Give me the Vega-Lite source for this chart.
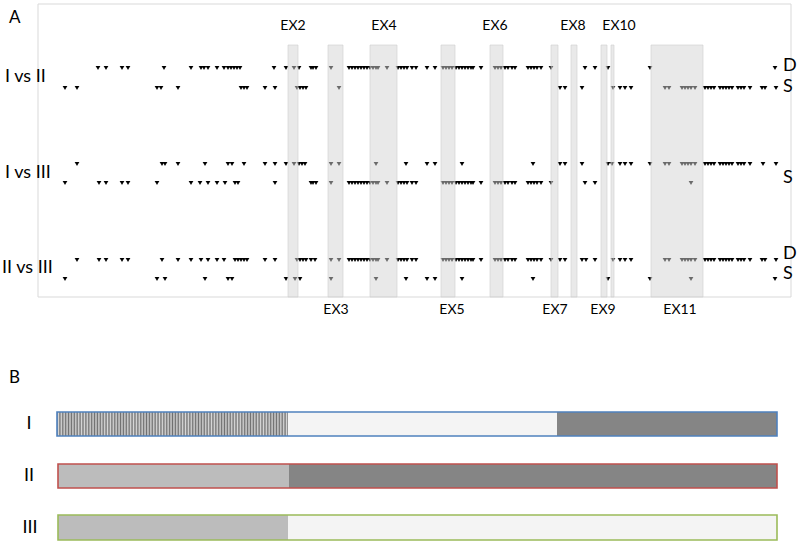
{
  "$schema": "https://vega.github.io/schema/vega-lite/v6.json",
  "width": 799,
  "height": 546,
  "padding": 0,
  "autosize": {"type": "fit", "contains": "padding"},
  "config": {"view": {"stroke": null}, "font": "Lato"},
  "datasets": {
    "lanes": [
      {"lane": "I vs II D", "y": 68}, {"lane": "I vs II S", "y": 88},
      {"lane": "I vs III D", "y": 164}, {"lane": "I vs III S", "y": 183},
      {"lane": "II vs III D", "y": 260}, {"lane": "II vs III S", "y": 279}
    ],
    "sites": [
      {"lane":"I vs II D","pos":98},{"lane":"I vs II D","pos":106},{"lane":"I vs II D","pos":122},{"lane":"I vs II D","pos":128},{"lane":"I vs II D","pos":164},{"lane":"I vs II D","pos":191},{"lane":"I vs II D","pos":201},{"lane":"I vs II D","pos":204},{"lane":"I vs II D","pos":208},{"lane":"I vs II D","pos":217},{"lane":"I vs II D","pos":224},{"lane":"I vs II D","pos":228},{"lane":"I vs II D","pos":231},{"lane":"I vs II D","pos":234},{"lane":"I vs II D","pos":237},{"lane":"I vs II D","pos":240},{"lane":"I vs II D","pos":274},{"lane":"I vs II D","pos":286},{"lane":"I vs II D","pos":294},{"lane":"I vs II D","pos":299},{"lane":"I vs II D","pos":311},{"lane":"I vs II D","pos":313},{"lane":"I vs II D","pos":316},{"lane":"I vs II D","pos":331},{"lane":"I vs II D","pos":349},{"lane":"I vs II D","pos":352},{"lane":"I vs II D","pos":355},{"lane":"I vs II D","pos":358},{"lane":"I vs II D","pos":361},{"lane":"I vs II D","pos":364},{"lane":"I vs II D","pos":367},{"lane":"I vs II D","pos":370},{"lane":"I vs II D","pos":373},{"lane":"I vs II D","pos":376},{"lane":"I vs II D","pos":378},{"lane":"I vs II D","pos":387},{"lane":"I vs II D","pos":398},{"lane":"I vs II D","pos":401},{"lane":"I vs II D","pos":404},{"lane":"I vs II D","pos":407},{"lane":"I vs II D","pos":412},{"lane":"I vs II D","pos":416},{"lane":"I vs II D","pos":427},{"lane":"I vs II D","pos":435},{"lane":"I vs II D","pos":443},{"lane":"I vs II D","pos":446},{"lane":"I vs II D","pos":449},{"lane":"I vs II D","pos":452},{"lane":"I vs II D","pos":456},{"lane":"I vs II D","pos":459},{"lane":"I vs II D","pos":462},{"lane":"I vs II D","pos":465},{"lane":"I vs II D","pos":468},{"lane":"I vs II D","pos":471},{"lane":"I vs II D","pos":473},{"lane":"I vs II D","pos":481},{"lane":"I vs II D","pos":495},{"lane":"I vs II D","pos":498},{"lane":"I vs II D","pos":501},{"lane":"I vs II D","pos":505},{"lane":"I vs II D","pos":508},{"lane":"I vs II D","pos":512},{"lane":"I vs II D","pos":515},{"lane":"I vs II D","pos":528},{"lane":"I vs II D","pos":531},{"lane":"I vs II D","pos":534},{"lane":"I vs II D","pos":537},{"lane":"I vs II D","pos":541},{"lane":"I vs II D","pos":551},{"lane":"I vs II D","pos":585},{"lane":"I vs II D","pos":595},{"lane":"I vs II D","pos":608},{"lane":"I vs II D","pos":650},{"lane":"I vs II D","pos":775},
      {"lane":"I vs II S","pos":65},{"lane":"I vs II S","pos":77},{"lane":"I vs II S","pos":157},{"lane":"I vs II S","pos":161},{"lane":"I vs II S","pos":178},{"lane":"I vs II S","pos":241},{"lane":"I vs II S","pos":244},{"lane":"I vs II S","pos":247},{"lane":"I vs II S","pos":265},{"lane":"I vs II S","pos":275},{"lane":"I vs II S","pos":297},{"lane":"I vs II S","pos":300},{"lane":"I vs II S","pos":303},{"lane":"I vs II S","pos":306},{"lane":"I vs II S","pos":339},{"lane":"I vs II S","pos":560},{"lane":"I vs II S","pos":565},{"lane":"I vs II S","pos":582},{"lane":"I vs II S","pos":613},{"lane":"I vs II S","pos":620},{"lane":"I vs II S","pos":625},{"lane":"I vs II S","pos":631},{"lane":"I vs II S","pos":665},{"lane":"I vs II S","pos":669},{"lane":"I vs II S","pos":682},{"lane":"I vs II S","pos":685},{"lane":"I vs II S","pos":688},{"lane":"I vs II S","pos":691},{"lane":"I vs II S","pos":695},{"lane":"I vs II S","pos":705},{"lane":"I vs II S","pos":708},{"lane":"I vs II S","pos":711},{"lane":"I vs II S","pos":714},{"lane":"I vs II S","pos":720},{"lane":"I vs II S","pos":723},{"lane":"I vs II S","pos":726},{"lane":"I vs II S","pos":729},{"lane":"I vs II S","pos":732},{"lane":"I vs II S","pos":738},{"lane":"I vs II S","pos":741},{"lane":"I vs II S","pos":744},{"lane":"I vs II S","pos":750},{"lane":"I vs II S","pos":762},{"lane":"I vs II S","pos":765},{"lane":"I vs II S","pos":776},
      {"lane":"I vs III D","pos":77},{"lane":"I vs III D","pos":162},{"lane":"I vs III D","pos":165},{"lane":"I vs III D","pos":178},{"lane":"I vs III D","pos":205},{"lane":"I vs III D","pos":228},{"lane":"I vs III D","pos":232},{"lane":"I vs III D","pos":244},{"lane":"I vs III D","pos":265},{"lane":"I vs III D","pos":275},{"lane":"I vs III D","pos":286},{"lane":"I vs III D","pos":294},{"lane":"I vs III D","pos":299},{"lane":"I vs III D","pos":302},{"lane":"I vs III D","pos":305},{"lane":"I vs III D","pos":331},{"lane":"I vs III D","pos":339},{"lane":"I vs III D","pos":376},{"lane":"I vs III D","pos":406},{"lane":"I vs III D","pos":427},{"lane":"I vs III D","pos":435},{"lane":"I vs III D","pos":462},{"lane":"I vs III D","pos":533},{"lane":"I vs III D","pos":560},{"lane":"I vs III D","pos":565},{"lane":"I vs III D","pos":582},{"lane":"I vs III D","pos":608},{"lane":"I vs III D","pos":612},{"lane":"I vs III D","pos":620},{"lane":"I vs III D","pos":625},{"lane":"I vs III D","pos":631},{"lane":"I vs III D","pos":650},{"lane":"I vs III D","pos":665},{"lane":"I vs III D","pos":669},{"lane":"I vs III D","pos":682},{"lane":"I vs III D","pos":685},{"lane":"I vs III D","pos":688},{"lane":"I vs III D","pos":691},{"lane":"I vs III D","pos":695},{"lane":"I vs III D","pos":705},{"lane":"I vs III D","pos":708},{"lane":"I vs III D","pos":711},{"lane":"I vs III D","pos":714},{"lane":"I vs III D","pos":720},{"lane":"I vs III D","pos":723},{"lane":"I vs III D","pos":726},{"lane":"I vs III D","pos":729},{"lane":"I vs III D","pos":732},{"lane":"I vs III D","pos":738},{"lane":"I vs III D","pos":741},{"lane":"I vs III D","pos":744},{"lane":"I vs III D","pos":750},{"lane":"I vs III D","pos":763},{"lane":"I vs III D","pos":776},
      {"lane":"I vs III S","pos":65},{"lane":"I vs III S","pos":99},{"lane":"I vs III S","pos":106},{"lane":"I vs III S","pos":122},{"lane":"I vs III S","pos":128},{"lane":"I vs III S","pos":157},{"lane":"I vs III S","pos":191},{"lane":"I vs III S","pos":200},{"lane":"I vs III S","pos":208},{"lane":"I vs III S","pos":217},{"lane":"I vs III S","pos":225},{"lane":"I vs III S","pos":235},{"lane":"I vs III S","pos":238},{"lane":"I vs III S","pos":275},{"lane":"I vs III S","pos":311},{"lane":"I vs III S","pos":313},{"lane":"I vs III S","pos":316},{"lane":"I vs III S","pos":331},{"lane":"I vs III S","pos":349},{"lane":"I vs III S","pos":352},{"lane":"I vs III S","pos":355},{"lane":"I vs III S","pos":358},{"lane":"I vs III S","pos":361},{"lane":"I vs III S","pos":364},{"lane":"I vs III S","pos":367},{"lane":"I vs III S","pos":370},{"lane":"I vs III S","pos":373},{"lane":"I vs III S","pos":376},{"lane":"I vs III S","pos":378},{"lane":"I vs III S","pos":387},{"lane":"I vs III S","pos":398},{"lane":"I vs III S","pos":401},{"lane":"I vs III S","pos":404},{"lane":"I vs III S","pos":407},{"lane":"I vs III S","pos":412},{"lane":"I vs III S","pos":416},{"lane":"I vs III S","pos":443},{"lane":"I vs III S","pos":446},{"lane":"I vs III S","pos":449},{"lane":"I vs III S","pos":452},{"lane":"I vs III S","pos":456},{"lane":"I vs III S","pos":459},{"lane":"I vs III S","pos":462},{"lane":"I vs III S","pos":465},{"lane":"I vs III S","pos":468},{"lane":"I vs III S","pos":471},{"lane":"I vs III S","pos":473},{"lane":"I vs III S","pos":481},{"lane":"I vs III S","pos":495},{"lane":"I vs III S","pos":498},{"lane":"I vs III S","pos":501},{"lane":"I vs III S","pos":505},{"lane":"I vs III S","pos":508},{"lane":"I vs III S","pos":512},{"lane":"I vs III S","pos":515},{"lane":"I vs III S","pos":528},{"lane":"I vs III S","pos":531},{"lane":"I vs III S","pos":534},{"lane":"I vs III S","pos":537},{"lane":"I vs III S","pos":541},{"lane":"I vs III S","pos":551},{"lane":"I vs III S","pos":585},{"lane":"I vs III S","pos":595},{"lane":"I vs III S","pos":691},
      {"lane":"II vs III D","pos":77},{"lane":"II vs III D","pos":99},{"lane":"II vs III D","pos":106},{"lane":"II vs III D","pos":122},{"lane":"II vs III D","pos":128},{"lane":"II vs III D","pos":162},{"lane":"II vs III D","pos":178},{"lane":"II vs III D","pos":191},{"lane":"II vs III D","pos":201},{"lane":"II vs III D","pos":208},{"lane":"II vs III D","pos":217},{"lane":"II vs III D","pos":224},{"lane":"II vs III D","pos":235},{"lane":"II vs III D","pos":238},{"lane":"II vs III D","pos":241},{"lane":"II vs III D","pos":244},{"lane":"II vs III D","pos":247},{"lane":"II vs III D","pos":265},{"lane":"II vs III D","pos":275},{"lane":"II vs III D","pos":297},{"lane":"II vs III D","pos":300},{"lane":"II vs III D","pos":303},{"lane":"II vs III D","pos":306},{"lane":"II vs III D","pos":311},{"lane":"II vs III D","pos":315},{"lane":"II vs III D","pos":331},{"lane":"II vs III D","pos":339},{"lane":"II vs III D","pos":349},{"lane":"II vs III D","pos":352},{"lane":"II vs III D","pos":355},{"lane":"II vs III D","pos":358},{"lane":"II vs III D","pos":361},{"lane":"II vs III D","pos":364},{"lane":"II vs III D","pos":367},{"lane":"II vs III D","pos":370},{"lane":"II vs III D","pos":373},{"lane":"II vs III D","pos":376},{"lane":"II vs III D","pos":378},{"lane":"II vs III D","pos":387},{"lane":"II vs III D","pos":398},{"lane":"II vs III D","pos":401},{"lane":"II vs III D","pos":404},{"lane":"II vs III D","pos":407},{"lane":"II vs III D","pos":412},{"lane":"II vs III D","pos":416},{"lane":"II vs III D","pos":443},{"lane":"II vs III D","pos":446},{"lane":"II vs III D","pos":449},{"lane":"II vs III D","pos":452},{"lane":"II vs III D","pos":456},{"lane":"II vs III D","pos":459},{"lane":"II vs III D","pos":462},{"lane":"II vs III D","pos":465},{"lane":"II vs III D","pos":468},{"lane":"II vs III D","pos":471},{"lane":"II vs III D","pos":473},{"lane":"II vs III D","pos":481},{"lane":"II vs III D","pos":495},{"lane":"II vs III D","pos":498},{"lane":"II vs III D","pos":501},{"lane":"II vs III D","pos":505},{"lane":"II vs III D","pos":508},{"lane":"II vs III D","pos":512},{"lane":"II vs III D","pos":515},{"lane":"II vs III D","pos":528},{"lane":"II vs III D","pos":531},{"lane":"II vs III D","pos":534},{"lane":"II vs III D","pos":537},{"lane":"II vs III D","pos":541},{"lane":"II vs III D","pos":551},{"lane":"II vs III D","pos":560},{"lane":"II vs III D","pos":565},{"lane":"II vs III D","pos":582},{"lane":"II vs III D","pos":586},{"lane":"II vs III D","pos":595},{"lane":"II vs III D","pos":613},{"lane":"II vs III D","pos":620},{"lane":"II vs III D","pos":625},{"lane":"II vs III D","pos":631},{"lane":"II vs III D","pos":665},{"lane":"II vs III D","pos":669},{"lane":"II vs III D","pos":682},{"lane":"II vs III D","pos":685},{"lane":"II vs III D","pos":688},{"lane":"II vs III D","pos":691},{"lane":"II vs III D","pos":695},{"lane":"II vs III D","pos":705},{"lane":"II vs III D","pos":708},{"lane":"II vs III D","pos":711},{"lane":"II vs III D","pos":714},{"lane":"II vs III D","pos":720},{"lane":"II vs III D","pos":723},{"lane":"II vs III D","pos":726},{"lane":"II vs III D","pos":729},{"lane":"II vs III D","pos":732},{"lane":"II vs III D","pos":738},{"lane":"II vs III D","pos":741},{"lane":"II vs III D","pos":744},{"lane":"II vs III D","pos":750},{"lane":"II vs III D","pos":762},{"lane":"II vs III D","pos":765},{"lane":"II vs III D","pos":776},
      {"lane":"II vs III S","pos":65},{"lane":"II vs III S","pos":157},{"lane":"II vs III S","pos":165},{"lane":"II vs III S","pos":205},{"lane":"II vs III S","pos":228},{"lane":"II vs III S","pos":232},{"lane":"II vs III S","pos":286},{"lane":"II vs III S","pos":295},{"lane":"II vs III S","pos":300},{"lane":"II vs III S","pos":331},{"lane":"II vs III S","pos":376},{"lane":"II vs III S","pos":406},{"lane":"II vs III S","pos":427},{"lane":"II vs III S","pos":435},{"lane":"II vs III S","pos":462},{"lane":"II vs III S","pos":533},{"lane":"II vs III S","pos":608},{"lane":"II vs III S","pos":650},{"lane":"II vs III S","pos":691},{"lane":"II vs III S","pos":775}
    ],
    "exons": [
      {"exon":"EX2","start":288,"end":298,"top":45,"bottom":297},
      {"exon":"EX3","start":328,"end":343,"top":45,"bottom":297},
      {"exon":"EX4","start":370,"end":397,"top":45,"bottom":297},
      {"exon":"EX5","start":441,"end":455,"top":45,"bottom":297},
      {"exon":"EX6","start":490,"end":503,"top":45,"bottom":297},
      {"exon":"EX7","start":551,"end":558,"top":45,"bottom":297},
      {"exon":"EX8","start":571,"end":577,"top":45,"bottom":297},
      {"exon":"EX9","start":601,"end":607,"top":45,"bottom":297},
      {"exon":"EX10","start":611,"end":614,"top":45,"bottom":297},
      {"exon":"EX11","start":651,"end":703,"top":45,"bottom":297}
    ],
    "frame": [{"panel":"A","left":38,"right":791,"top":4,"bottom":297}],
    "samples": [
      {"sample":"I","start":57,"end":777,"top":412,"bottom":436},
      {"sample":"II","start":58,"end":777,"top":464,"bottom":488},
      {"sample":"III","start":58,"end":777,"top":515,"bottom":540}
    ],
    "segments": [
      {"sample":"I","start":57,"end":288,"pattern":"vertical stripes"},
      {"sample":"I","start":288,"end":557,"pattern":"light dots"},
      {"sample":"I","start":557,"end":777,"pattern":"dark dots"},
      {"sample":"II","start":58,"end":289,"pattern":"diagonal hatch"},
      {"sample":"II","start":289,"end":777,"pattern":"dark dots"},
      {"sample":"III","start":58,"end":288,"pattern":"diagonal hatch"},
      {"sample":"III","start":288,"end":777,"pattern":"light dots"}
    ],
    "texts": [
      {"label":"A","x":9,"y":18,"role":"panel"},
      {"label":"B","x":9,"y":378,"role":"panel"},
      {"label":"I vs II","x":5,"y":77,"role":"row"},
      {"label":"I vs III","x":5,"y":173,"role":"row"},
      {"label":"II vs III","x":2,"y":268,"role":"row"},
      {"label":"D","x":783,"y":66,"role":"call"},
      {"label":"S","x":783,"y":87,"role":"call"},
      {"label":"S","x":783,"y":178,"role":"call"},
      {"label":"D","x":783,"y":254,"role":"call"},
      {"label":"S","x":783,"y":274,"role":"call"},
      {"label":"EX2","x":293,"y":26,"role":"exon"},
      {"label":"EX4","x":384,"y":26,"role":"exon"},
      {"label":"EX6","x":495,"y":26,"role":"exon"},
      {"label":"EX8","x":573,"y":26,"role":"exon"},
      {"label":"EX10","x":619,"y":26,"role":"exon"},
      {"label":"EX3","x":336,"y":310,"role":"exon"},
      {"label":"EX5","x":452,"y":310,"role":"exon"},
      {"label":"EX7","x":555,"y":310,"role":"exon"},
      {"label":"EX9","x":603,"y":310,"role":"exon"},
      {"label":"EX11","x":680,"y":310,"role":"exon"},
      {"label":"I","x":29,"y":424,"role":"sample"},
      {"label":"II","x":29,"y":476,"role":"sample"},
      {"label":"III","x":30,"y":528,"role":"sample"}
    ]
  },
  "layer": [
    {
      "data": {"name": "frame"},
      "mark": {"type": "rect", "fill": null, "fillOpacity": 0, "stroke": "#d9d9d9", "strokeWidth": 1},
      "encoding": {
        "x": {"field": "left", "type": "quantitative", "scale": {"domain": [0, 799], "nice": false, "zero": false}, "axis": null},
        "x2": {"field": "right"},
        "y": {"field": "top", "type": "quantitative", "scale": {"domain": [0, 546], "nice": false, "zero": false, "reverse": true}, "axis": null},
        "y2": {"field": "bottom"}
      }
    },
    {
      "data": {"name": "sites"},
      "transform": [{"lookup": "lane", "from": {"data": {"name": "lanes"}, "key": "lane", "fields": ["y"]}}],
      "mark": {"type": "point", "shape": "triangle-down", "filled": true, "size": 22, "color": "#000000", "opacity": 1},
      "encoding": {
        "x": {"field": "pos", "type": "quantitative", "scale": {"domain": [0, 799], "nice": false, "zero": false}, "axis": null},
        "y": {"field": "y", "type": "quantitative", "scale": {"domain": [0, 546], "nice": false, "zero": false, "reverse": true}, "axis": null}
      }
    },
    {
      "data": {"name": "exons"},
      "mark": {"type": "rect", "fill": "#d4d4d4", "fillOpacity": 0.5, "stroke": "#cfcfcf", "strokeWidth": 0.8, "strokeOpacity": 0.8},
      "encoding": {
        "x": {"field": "start", "type": "quantitative", "scale": {"domain": [0, 799], "nice": false, "zero": false}, "axis": null},
        "x2": {"field": "end"},
        "y": {"field": "top", "type": "quantitative", "scale": {"domain": [0, 546], "nice": false, "zero": false, "reverse": true}, "axis": null},
        "y2": {"field": "bottom"}
      }
    },
    {
      "data": {"name": "segments"},
      "transform": [{"lookup": "sample", "from": {"data": {"name": "samples"}, "key": "sample", "fields": ["top", "bottom"]}}],
      "mark": {"type": "rect", "strokeWidth": 0},
      "encoding": {
        "x": {"field": "start", "type": "quantitative", "scale": {"domain": [0, 799], "nice": false, "zero": false}, "axis": null},
        "x2": {"field": "end"},
        "y": {"field": "top", "type": "quantitative", "scale": {"domain": [0, 546], "nice": false, "zero": false, "reverse": true}, "axis": null},
        "y2": {"field": "bottom"},
        "fill": {"field": "pattern", "type": "nominal", "legend": null,
          "scale": {"domain": ["vertical stripes", "diagonal hatch", "light dots", "dark dots"], "range": ["#a4a4a4", "#bcbcbc", "#f4f4f4", "#858585"]}}
      }
    },
    {
      "data": {"name": "segments"},
      "transform": [
        {"filter": "datum.pattern === 'vertical stripes'"},
        {"lookup": "sample", "from": {"data": {"name": "samples"}, "key": "sample", "fields": ["top", "bottom"]}}
      ],
      "mark": {"type": "rect", "strokeWidth": 0, "fill": {"gradient": "linear", "x1": 0, "y1": 0, "x2": 1, "y2": 0, "stops": [
        {"offset":0,"color":"#707070"},{"offset":0.00625,"color":"#d8d8d8"},{"offset":0.0125,"color":"#707070"},{"offset":0.01875,"color":"#d8d8d8"},{"offset":0.025,"color":"#707070"},{"offset":0.03125,"color":"#d8d8d8"},{"offset":0.0375,"color":"#707070"},{"offset":0.04375,"color":"#d8d8d8"},{"offset":0.05,"color":"#707070"},{"offset":0.05625,"color":"#d8d8d8"},{"offset":0.0625,"color":"#707070"},{"offset":0.06875,"color":"#d8d8d8"},{"offset":0.075,"color":"#707070"},{"offset":0.08125,"color":"#d8d8d8"},{"offset":0.0875,"color":"#707070"},{"offset":0.09375,"color":"#d8d8d8"},
        {"offset":0.1,"color":"#707070"},{"offset":0.10625,"color":"#d8d8d8"},{"offset":0.1125,"color":"#707070"},{"offset":0.11875,"color":"#d8d8d8"},{"offset":0.125,"color":"#707070"},{"offset":0.13125,"color":"#d8d8d8"},{"offset":0.1375,"color":"#707070"},{"offset":0.14375,"color":"#d8d8d8"},{"offset":0.15,"color":"#707070"},{"offset":0.15625,"color":"#d8d8d8"},{"offset":0.1625,"color":"#707070"},{"offset":0.16875,"color":"#d8d8d8"},{"offset":0.175,"color":"#707070"},{"offset":0.18125,"color":"#d8d8d8"},{"offset":0.1875,"color":"#707070"},{"offset":0.19375,"color":"#d8d8d8"},
        {"offset":0.2,"color":"#707070"},{"offset":0.20625,"color":"#d8d8d8"},{"offset":0.2125,"color":"#707070"},{"offset":0.21875,"color":"#d8d8d8"},{"offset":0.225,"color":"#707070"},{"offset":0.23125,"color":"#d8d8d8"},{"offset":0.2375,"color":"#707070"},{"offset":0.24375,"color":"#d8d8d8"},{"offset":0.25,"color":"#707070"},{"offset":0.25625,"color":"#d8d8d8"},{"offset":0.2625,"color":"#707070"},{"offset":0.26875,"color":"#d8d8d8"},{"offset":0.275,"color":"#707070"},{"offset":0.28125,"color":"#d8d8d8"},{"offset":0.2875,"color":"#707070"},{"offset":0.29375,"color":"#d8d8d8"},
        {"offset":0.3,"color":"#707070"},{"offset":0.30625,"color":"#d8d8d8"},{"offset":0.3125,"color":"#707070"},{"offset":0.31875,"color":"#d8d8d8"},{"offset":0.325,"color":"#707070"},{"offset":0.33125,"color":"#d8d8d8"},{"offset":0.3375,"color":"#707070"},{"offset":0.34375,"color":"#d8d8d8"},{"offset":0.35,"color":"#707070"},{"offset":0.35625,"color":"#d8d8d8"},{"offset":0.3625,"color":"#707070"},{"offset":0.36875,"color":"#d8d8d8"},{"offset":0.375,"color":"#707070"},{"offset":0.38125,"color":"#d8d8d8"},{"offset":0.3875,"color":"#707070"},{"offset":0.39375,"color":"#d8d8d8"},
        {"offset":0.4,"color":"#707070"},{"offset":0.40625,"color":"#d8d8d8"},{"offset":0.4125,"color":"#707070"},{"offset":0.41875,"color":"#d8d8d8"},{"offset":0.425,"color":"#707070"},{"offset":0.43125,"color":"#d8d8d8"},{"offset":0.4375,"color":"#707070"},{"offset":0.44375,"color":"#d8d8d8"},{"offset":0.45,"color":"#707070"},{"offset":0.45625,"color":"#d8d8d8"},{"offset":0.4625,"color":"#707070"},{"offset":0.46875,"color":"#d8d8d8"},{"offset":0.475,"color":"#707070"},{"offset":0.48125,"color":"#d8d8d8"},{"offset":0.4875,"color":"#707070"},{"offset":0.49375,"color":"#d8d8d8"},
        {"offset":0.5,"color":"#707070"},{"offset":0.50625,"color":"#d8d8d8"},{"offset":0.5125,"color":"#707070"},{"offset":0.51875,"color":"#d8d8d8"},{"offset":0.525,"color":"#707070"},{"offset":0.53125,"color":"#d8d8d8"},{"offset":0.5375,"color":"#707070"},{"offset":0.54375,"color":"#d8d8d8"},{"offset":0.55,"color":"#707070"},{"offset":0.55625,"color":"#d8d8d8"},{"offset":0.5625,"color":"#707070"},{"offset":0.56875,"color":"#d8d8d8"},{"offset":0.575,"color":"#707070"},{"offset":0.58125,"color":"#d8d8d8"},{"offset":0.5875,"color":"#707070"},{"offset":0.59375,"color":"#d8d8d8"},
        {"offset":0.6,"color":"#707070"},{"offset":0.60625,"color":"#d8d8d8"},{"offset":0.6125,"color":"#707070"},{"offset":0.61875,"color":"#d8d8d8"},{"offset":0.625,"color":"#707070"},{"offset":0.63125,"color":"#d8d8d8"},{"offset":0.6375,"color":"#707070"},{"offset":0.64375,"color":"#d8d8d8"},{"offset":0.65,"color":"#707070"},{"offset":0.65625,"color":"#d8d8d8"},{"offset":0.6625,"color":"#707070"},{"offset":0.66875,"color":"#d8d8d8"},{"offset":0.675,"color":"#707070"},{"offset":0.68125,"color":"#d8d8d8"},{"offset":0.6875,"color":"#707070"},{"offset":0.69375,"color":"#d8d8d8"},
        {"offset":0.7,"color":"#707070"},{"offset":0.70625,"color":"#d8d8d8"},{"offset":0.7125,"color":"#707070"},{"offset":0.71875,"color":"#d8d8d8"},{"offset":0.725,"color":"#707070"},{"offset":0.73125,"color":"#d8d8d8"},{"offset":0.7375,"color":"#707070"},{"offset":0.74375,"color":"#d8d8d8"},{"offset":0.75,"color":"#707070"},{"offset":0.75625,"color":"#d8d8d8"},{"offset":0.7625,"color":"#707070"},{"offset":0.76875,"color":"#d8d8d8"},{"offset":0.775,"color":"#707070"},{"offset":0.78125,"color":"#d8d8d8"},{"offset":0.7875,"color":"#707070"},{"offset":0.79375,"color":"#d8d8d8"},
        {"offset":0.8,"color":"#707070"},{"offset":0.80625,"color":"#d8d8d8"},{"offset":0.8125,"color":"#707070"},{"offset":0.81875,"color":"#d8d8d8"},{"offset":0.825,"color":"#707070"},{"offset":0.83125,"color":"#d8d8d8"},{"offset":0.8375,"color":"#707070"},{"offset":0.84375,"color":"#d8d8d8"},{"offset":0.85,"color":"#707070"},{"offset":0.85625,"color":"#d8d8d8"},{"offset":0.8625,"color":"#707070"},{"offset":0.86875,"color":"#d8d8d8"},{"offset":0.875,"color":"#707070"},{"offset":0.88125,"color":"#d8d8d8"},{"offset":0.8875,"color":"#707070"},{"offset":0.89375,"color":"#d8d8d8"},
        {"offset":0.9,"color":"#707070"},{"offset":0.90625,"color":"#d8d8d8"},{"offset":0.9125,"color":"#707070"},{"offset":0.91875,"color":"#d8d8d8"},{"offset":0.925,"color":"#707070"},{"offset":0.93125,"color":"#d8d8d8"},{"offset":0.9375,"color":"#707070"},{"offset":0.94375,"color":"#d8d8d8"},{"offset":0.95,"color":"#707070"},{"offset":0.95625,"color":"#d8d8d8"},{"offset":0.9625,"color":"#707070"},{"offset":0.96875,"color":"#d8d8d8"},{"offset":0.975,"color":"#707070"},{"offset":0.98125,"color":"#d8d8d8"},{"offset":0.9875,"color":"#707070"},{"offset":0.99375,"color":"#d8d8d8"},
        {"offset":1,"color":"#707070"}
      ]}},
      "encoding": {
        "x": {"field": "start", "type": "quantitative", "scale": {"domain": [0, 799], "nice": false, "zero": false}, "axis": null},
        "x2": {"field": "end"},
        "y": {"field": "top", "type": "quantitative", "scale": {"domain": [0, 546], "nice": false, "zero": false, "reverse": true}, "axis": null},
        "y2": {"field": "bottom"}
      }
    },
    {
      "data": {"name": "samples"},
      "mark": {"type": "rect", "fill": null, "fillOpacity": 0, "strokeWidth": 1.6},
      "encoding": {
        "x": {"field": "start", "type": "quantitative", "scale": {"domain": [0, 799], "nice": false, "zero": false}, "axis": null},
        "x2": {"field": "end"},
        "y": {"field": "top", "type": "quantitative", "scale": {"domain": [0, 546], "nice": false, "zero": false, "reverse": true}, "axis": null},
        "y2": {"field": "bottom"},
        "stroke": {"field": "sample", "type": "nominal", "legend": null,
          "scale": {"domain": ["I", "II", "III"], "range": ["#4f81bd", "#c0504d", "#9bbb59"]}}
      }
    },
    {
      "data": {"name": "texts"},
      "transform": [{"filter": "datum.role === 'panel'"}],
      "mark": {"type": "text", "align": "left", "baseline": "middle", "fontSize": 17, "color": "#000000"},
      "encoding": {
        "x": {"field": "x", "type": "quantitative", "scale": {"domain": [0, 799], "nice": false, "zero": false}, "axis": null},
        "y": {"field": "y", "type": "quantitative", "scale": {"domain": [0, 546], "nice": false, "zero": false, "reverse": true}, "axis": null},
        "text": {"field": "label"}
      }
    },
    {
      "data": {"name": "texts"},
      "transform": [{"filter": "datum.role === 'row'"}],
      "mark": {"type": "text", "align": "left", "baseline": "middle", "fontSize": 18, "color": "#000000"},
      "encoding": {
        "x": {"field": "x", "type": "quantitative", "scale": {"domain": [0, 799], "nice": false, "zero": false}, "axis": null},
        "y": {"field": "y", "type": "quantitative", "scale": {"domain": [0, 546], "nice": false, "zero": false, "reverse": true}, "axis": null},
        "text": {"field": "label"}
      }
    },
    {
      "data": {"name": "texts"},
      "transform": [{"filter": "datum.role === 'call'"}],
      "mark": {"type": "text", "align": "left", "baseline": "middle", "fontSize": 18, "color": "#000000"},
      "encoding": {
        "x": {"field": "x", "type": "quantitative", "scale": {"domain": [0, 799], "nice": false, "zero": false}, "axis": null},
        "y": {"field": "y", "type": "quantitative", "scale": {"domain": [0, 546], "nice": false, "zero": false, "reverse": true}, "axis": null},
        "text": {"field": "label"}
      }
    },
    {
      "data": {"name": "texts"},
      "transform": [{"filter": "datum.role === 'exon'"}],
      "mark": {"type": "text", "align": "center", "baseline": "middle", "fontSize": 14, "color": "#000000"},
      "encoding": {
        "x": {"field": "x", "type": "quantitative", "scale": {"domain": [0, 799], "nice": false, "zero": false}, "axis": null},
        "y": {"field": "y", "type": "quantitative", "scale": {"domain": [0, 546], "nice": false, "zero": false, "reverse": true}, "axis": null},
        "text": {"field": "label"}
      }
    },
    {
      "data": {"name": "texts"},
      "transform": [{"filter": "datum.role === 'sample'"}],
      "mark": {"type": "text", "align": "center", "baseline": "middle", "fontSize": 18, "color": "#000000"},
      "encoding": {
        "x": {"field": "x", "type": "quantitative", "scale": {"domain": [0, 799], "nice": false, "zero": false}, "axis": null},
        "y": {"field": "y", "type": "quantitative", "scale": {"domain": [0, 546], "nice": false, "zero": false, "reverse": true}, "axis": null},
        "text": {"field": "label"}
      }
    }
  ]
}
